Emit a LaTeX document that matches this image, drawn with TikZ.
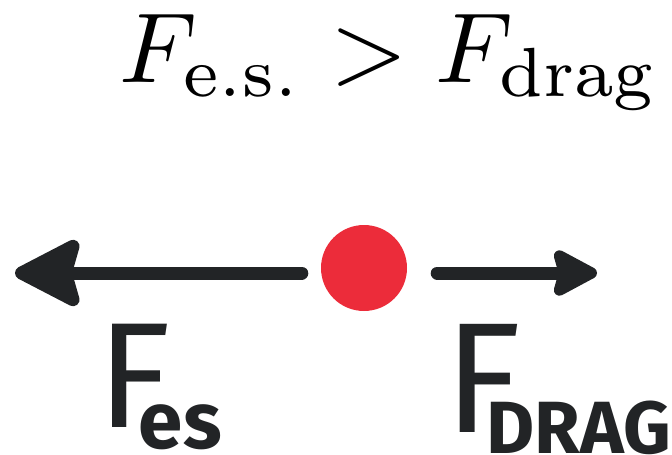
\documentclass[tikz,border=0pt]{standalone}
\usepackage{fontspec}
\usepackage{tikz}
\usetikzlibrary{arrows.meta, positioning}
\newfontfamily\markerfont{Fira Sans}
\definecolor{ink}{RGB}{34,36,38}
\definecolor{dotred}{RGB}{236,44,58}
\tikzset{
  force/.style={line width=13pt, line cap=round, ink},
  marker/.style={font=\markerfont, text=ink, inner sep=0pt},
}

\begin{document}
\begin{tikzpicture}[x=1pt, y=-1pt]
    \useasboundingbox (0,0) rectangle (672,455);
    % the inequality on top
    \node[scale=9.95, anchor=base, inner sep=0pt] (ineq) at (389,82)
        {$F_{\mathrm{e.s.}} > F_{\mathrm{drag}}$};
    % charged particle
    \node[circle, fill=dotred, minimum size=86pt, inner sep=0pt] (dot) at (364,268) {};
    \coordinate (esTip) at (15,273);
    \coordinate (dragTip) at (597,273);
    \draw[force, shorten <=19pt, -{Stealth[length=75pt, width=76pt, inset=10pt, round]}]
        (dot.west |- esTip) -- (esTip);
    \draw[force, shorten <=30pt, -{Stealth[length=52pt, width=54pt, inset=7pt, round]}]
        (dot.east |- dragTip) -- (dragTip);
    % hand written labels
    \node[marker, anchor=base west] (fes) at (97,427)
        {\fontsize{150}{150}\selectfont F\kern-32pt\raisebox{-21pt}{\bfseries\fontsize{80}{80}\selectfont es}};
    \node[marker, anchor=base west] (fdrag) at (444,432)
        {\fontsize{157}{157}\selectfont F\kern-35pt\raisebox{-21pt}{\bfseries\fontsize{74}{74}\selectfont DRAG}};
\end{tikzpicture}
\end{document}
